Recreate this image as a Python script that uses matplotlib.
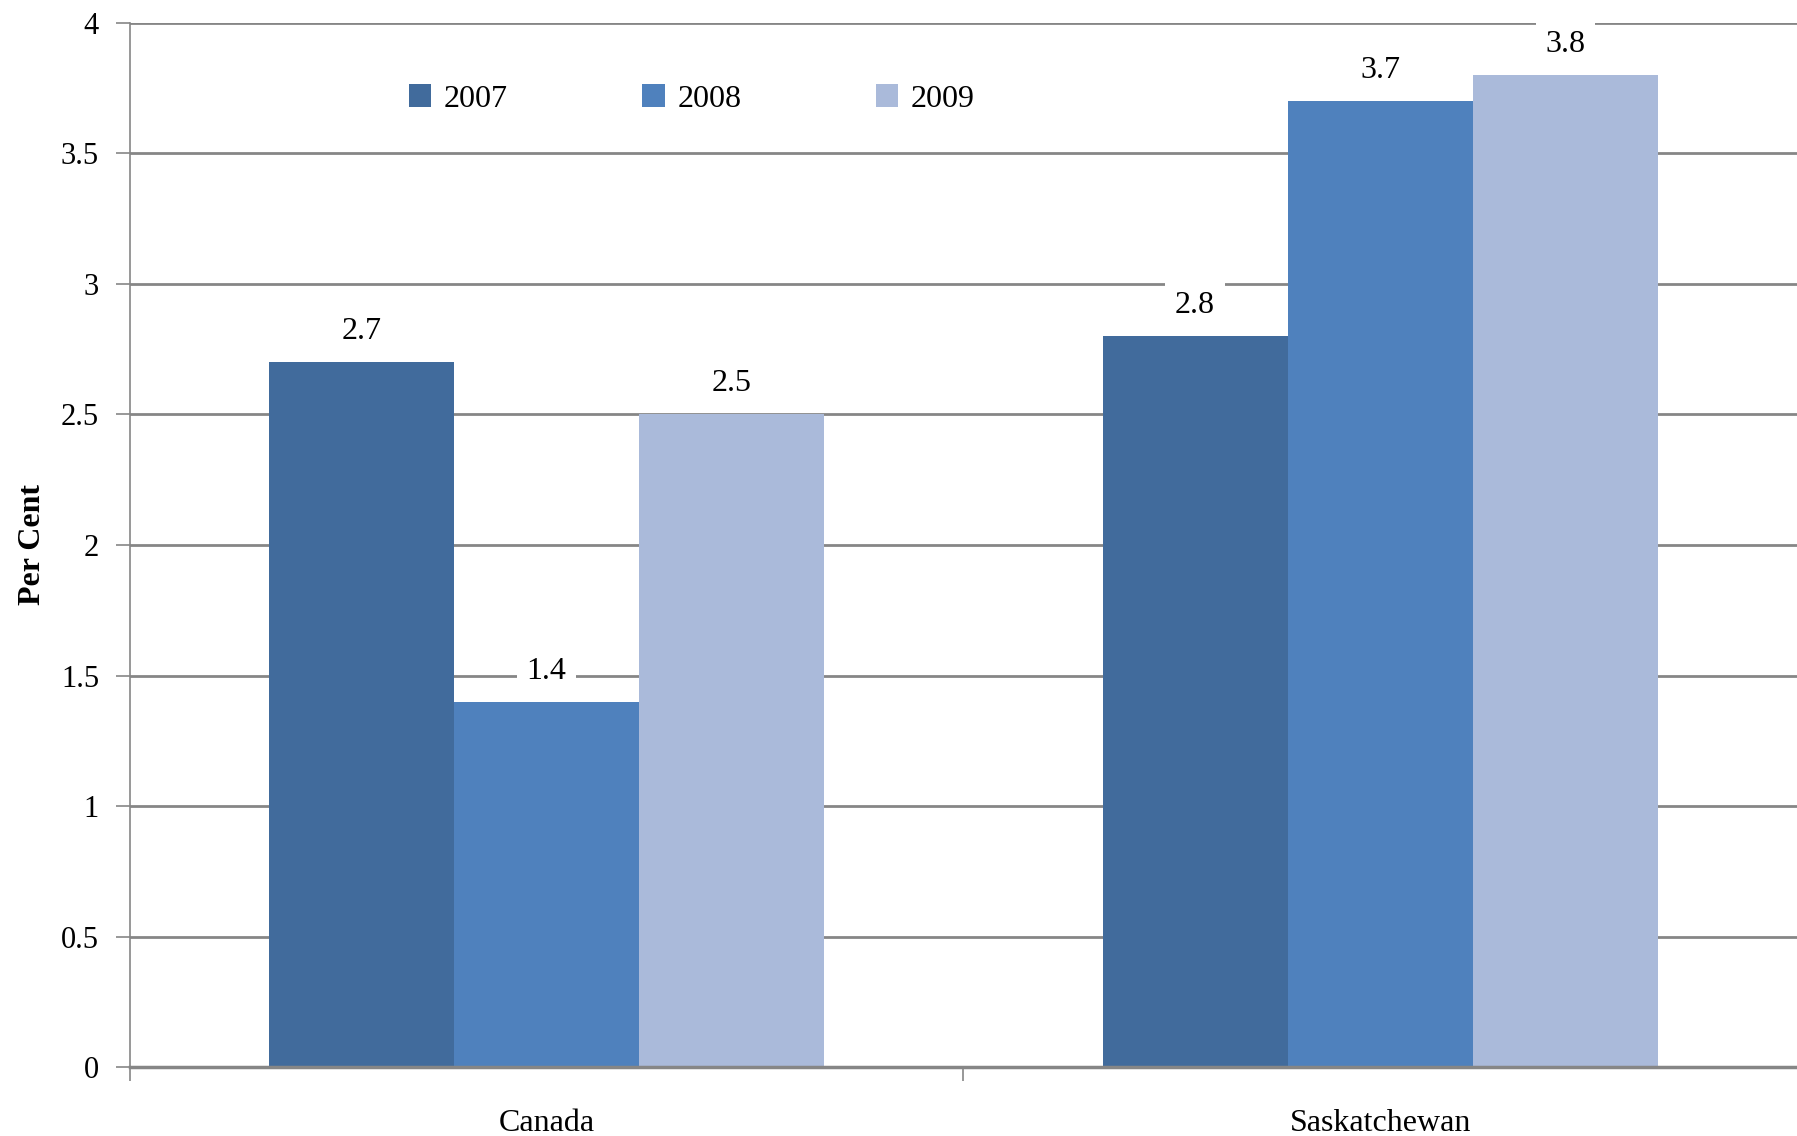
import numpy as np
import matplotlib.pyplot as plt
from matplotlib.ticker import FixedLocator

regions = ['Canada', 'Saskatchewan']
years = ['2007', '2008', '2009']
v2007 = [2.7, 2.8]
v2008 = [1.4, 3.7]
v2009 = [2.5, 3.8]
colors = ['#416B9C', '#4F81BD', '#AABADA']

plt.rcParams['font.family'] = ['Liberation Serif', 'DejaVu Serif']

fig = plt.figure(figsize=(17.97, 11.36), dpi=100)
ax = fig.add_axes([0.0721, 0.0607, 0.9279, 0.9191])

x = np.arange(len(regions))
w = 0.222
for i, (vals, yr) in enumerate(zip([v2007, v2008, v2009], years)):
    pos = x + (i - 1) * w
    ax.bar(pos, vals, width=w, color=colors[i], label=yr, zorder=2)
    for px, v in zip(pos, vals):
        ax.annotate('%.1f' % v, (px, v), xytext=(0, 22), textcoords='offset points',
                    ha='center', va='center', fontsize=23, zorder=4,
                    bbox=dict(boxstyle='square,pad=0.3', fc='white', ec='none'))

ax.set_xlim(-0.5, 1.5)
ax.set_ylim(0, 4)
ax.set_yticks(np.arange(0, 4.01, 0.5))
ax.set_yticklabels(['0', '0.5', '1', '1.5', '2', '2.5', '3', '3.5', '4'])
ax.yaxis.grid(True, color='#868686', linewidth=2, zorder=0)
ax.set_axisbelow(True)

ax.set_xticks(x)
ax.set_xticklabels(regions)
ax.xaxis.set_minor_locator(FixedLocator([-0.5, 0.5]))
ax.tick_params(axis='x', which='major', length=0, pad=30, labelsize=23)
ax.tick_params(axis='x', which='minor', length=10, color='#868686', width=1.2)
ax.tick_params(axis='y', length=10, color='#868686', width=1.2, labelsize=22, pad=12)

for s in ['top', 'right']:
    ax.spines[s].set_visible(False)
ax.spines['left'].set_color('#868686')
ax.spines['left'].set_linewidth(1.2)
ax.spines['bottom'].set_color('#868686')
ax.spines['bottom'].set_linewidth(2.5)

ax.set_ylabel('Per Cent', fontsize=23, fontweight='bold', labelpad=10)

ax.legend(loc='center', bbox_to_anchor=(0.385, 0.913), bbox_transform=fig.transFigure,
          ncol=3, frameon=False, fontsize=23, handlelength=0.7, handleheight=0.7,
          handletextpad=0.4, columnspacing=4.2)

fig.savefig('out.png', dpi=100)
